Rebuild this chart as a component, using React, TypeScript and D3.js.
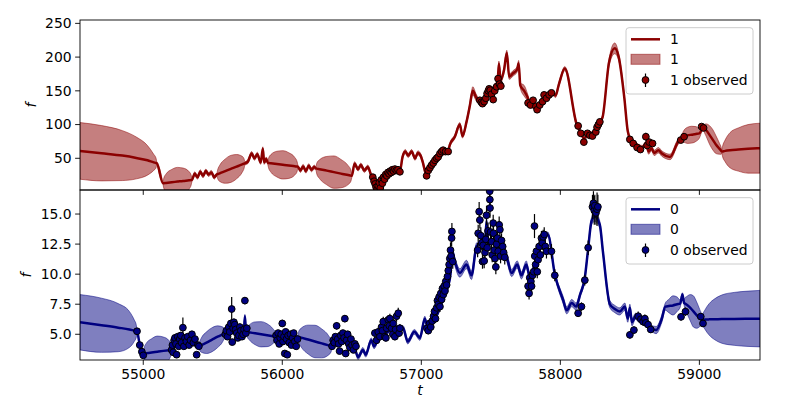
import React from 'react';
import * as d3 from 'd3';

// GP model knots: [t, mean, 1-sigma half width]
const MODEL_1: number[][] = [
  [54545, 61, 42], [54700, 57.5, 41], [54850, 54, 37], [54950, 50.5, 31], [55030, 47, 22], [55075, 44, 12], [55092, 43, 7], [55098, 42.6, 1],
  [55142, 13, 1], [55147, 13.1, 7], [55163, 13.5, 13], [55205, 14.5, 19], [55246, 15.5, 21], [55287, 16.5, 19], [55329, 17.3, 13], [55345, 17.7, 7], [55350, 17.8, 2.5],
  [55370, 27, 3], [55390, 22, 3], [55410, 30, 3], [55430, 24, 3], [55450, 31, 3], [55470, 26, 3], [55490, 29, 3], [55510, 22, 3], [55530, 26, 2.5],
  [55535, 26.4, 6.5], [55550, 27.7, 12], [55590, 31, 18], [55630, 34.3, 20], [55671, 37.6, 18], [55711, 41, 12], [55726, 42.2, 6.5], [55731, 42.6, 2.5],
  [55752, 45, 3], [55780, 57, 3], [55800, 50, 3], [55820, 56, 3], [55845, 44, 3], [55860, 64, 3], [55870, 44, 3], [55885, 49, 3], [55896, 43, 2.5],
  [55901, 42.9, 7], [55918, 42.5, 13], [55961, 41.4, 19], [56004, 40.3, 21], [56047, 39.2, 19], [56090, 38.2, 13], [56107, 37.7, 7], [56112, 37.6, 2.5],
  [56130, 32, 3], [56150, 38, 3], [56170, 31, 3], [56190, 39, 3], [56210, 33, 3], [56230, 37, 3], [56242, 35, 2.5],
  [56248, 34.7, 8], [56268, 33.9, 14], [56320, 31.7, 21], [56371, 29.5, 24], [56422, 27.3, 21], [56474, 25.1, 14], [56494, 24.3, 8], [56500, 24, 2.5],
  [56520, 42, 3], [56545, 34, 3], [56565, 40, 3], [56590, 32, 3], [56615, 37, 3], [56640, 24, 3],
  [56660, 14, 3], [56685, 8, 3], [56715, 15, 3], [56745, 24, 3], [56775, 29, 3], [56810, 32, 3], [56846, 31, 3],
  [56865, 52, 3], [56885, 60, 3], [56905, 54, 3], [56930, 60, 3], [56955, 50, 3], [56975, 58, 3], [56995, 54, 3], [57011, 44, 3], [57035, 26, 3],
  [57060, 35, 3], [57100, 45, 3], [57140, 56, 3], [57191, 60, 3],
  [57205, 70, 3], [57241, 82, 3], [57277, 100, 3], [57296, 83, 3], [57325, 104, 3], [57349, 128, 4], [57370, 150, 6], [57395, 140, 5], [57421, 134, 3],
  [57450, 134, 3], [57480, 146, 3], [57505, 150, 3], [57530, 158, 3], [57548, 162, 4], [57558, 190, 4], [57570, 166, 4],
  [57595, 181, 4], [57615, 206, 4], [57632, 171, 4], [57660, 176, 4], [57690, 182, 4], [57700, 191, 4], [57712, 158, 4], [57740, 150, 8], [57765, 140, 5], [57780, 132, 3],
  [57800, 130, 3], [57830, 127, 3], [57870, 136, 3], [57910, 144, 3], [57946, 146, 3], [57965, 143, 3], [57990, 160, 3], [58032, 183, 3], [58118, 100, 3],
  [58140, 91, 3], [58170, 80, 3], [58200, 85, 3], [58240, 88, 3], [58285, 103, 3],
  [58305, 112, 3], [58350, 192, 5], [58391, 213, 8], [58420, 200, 5], [58460, 140, 3], [58485, 90, 3],
  [58500, 80, 3], [58530, 74, 3], [58560, 68, 3], [58590, 66, 3], [58615, 72, 3], [58635, 60, 4], [58655, 65, 4],
  [58675, 58, 4], [58705, 62, 4], [58730, 57, 4], [58789, 52, 4], [58849, 75, 4], [58868, 78, 3],
  [58873, 79, 4.5], [58885, 82, 8], [58915, 84, 12], [58945, 85, 12.5], [58975, 86, 11], [59000, 87, 7], [59011, 90, 4], [59016, 93, 3], [59030, 96, 2],
  [59034, 95, 5], [59048, 92, 9], [59075, 84, 14], [59098, 77, 15], [59120, 70, 13], [59145, 64, 8], [59157, 61, 5], [59161, 60, 2],
  [59166, 60.2, 7], [59185, 61, 16], [59220, 62, 26], [59280, 63, 32], [59350, 64, 36], [59436, 65, 37],
];

// observed points: [t, f, err]
const OBS_1: number[][] = [
  [56651, 22, 3], [56660, 16, 3], [56668, 12, 3], [56675, 7, 3], [56682, 4, 3], [56690, 9, 3], [56698, 14, 3], [56705, 6, 3],
  [56712, 18, 3], [56720, 13, 3], [56728, 22, 3], [56736, 19, 3], [56744, 26, 3], [56752, 24, 3], [56760, 29, 3], [56768, 27, 3],
  [56776, 31, 3], [56784, 29, 3], [56792, 33, 3], [56800, 31, 3], [56810, 34, 3], [56820, 32, 3], [56832, 33, 3], [56846, 30, 3],
  [57038, 24, 3], [57050, 32, 3], [57062, 36, 3], [57074, 40, 3], [57086, 43, 3], [57098, 47, 3], [57110, 50, 3], [57121, 52, 3],
  [57134, 57, 3], [57146, 60, 3], [57157, 62, 3], [57175, 60, 3], [57193, 60, 3],
  [57421, 136, 3], [57432, 133, 3], [57440, 131, 3], [57452, 134, 3], [57464, 139, 3], [57473, 146, 3], [57482, 150, 3], [57488, 153, 3],
  [57496, 151, 3], [57505, 145, 3], [57517, 137, 3], [57528, 150, 3], [57541, 156, 3], [57552, 168, 4], [57562, 160, 3], [57572, 157, 3],
  [57768, 132, 3], [57785, 129, 3], [57804, 136, 3], [57824, 127, 3], [57833, 122, 3], [57852, 129, 3], [57872, 134, 3], [57883, 144, 3],
  [57900, 139, 3], [57919, 144, 3], [57936, 147, 3],
  [58128, 98, 3], [58147, 87, 3], [58169, 74, 3], [58195, 87, 3], [58212, 84, 3], [58231, 83, 3], [58255, 89, 3], [58264, 96, 3], [58274, 100, 3], [58284, 104, 3],
  [58500, 78, 3], [58524, 72, 3], [58552, 66, 3], [58576, 63, 3], [58615, 82, 6], [58624, 69, 3], [58639, 74, 3], [58663, 72, 3],
  [58866, 77, 3], [58890, 82, 3], [59016, 97, 3], [59030, 95, 3],
];

const MODEL_0: number[][] = [
  [54545, 6.0, 2.3], [54700, 5.75, 2.25], [54820, 5.55, 2.0], [54900, 5.4, 1.5], [54935, 5.3, 0.9], [54950, 5.26, 0.5], [54955, 5.25, 0.1],
  [54975, 4.1, 0.1], [54990, 3.55, 0.1], [55000, 3.4, 0.1],
  [55005, 3.4, 0.42], [55020, 3.42, 0.8], [55060, 3.48, 1.15], [55102, 3.55, 1.3], [55145, 3.62, 1.15], [55185, 3.68, 0.8], [55199, 3.7, 0.42], [55204, 3.7, 0.12],
  [55240, 4.3, 0.15], [55280, 4.5, 0.15], [55320, 4.4, 0.15], [55360, 4.3, 0.15], [55400, 4.0, 0.12],
  [55405, 4.02, 0.33], [55418, 4.1, 0.6], [55455, 4.3, 0.9], [55495, 4.55, 1.0], [55535, 4.8, 0.9], [55572, 5.0, 0.6], [55585, 5.07, 0.33], [55590, 5.1, 0.12],
  [55620, 5.3, 0.15], [55660, 5.15, 0.15], [55700, 5.25, 0.15], [55722, 5.0, 0.15], [55731, 6.5, 0.15], [55740, 5.2, 0.12],
  [55745, 5.19, 0.35], [55761, 5.16, 0.6], [55805, 5.08, 0.95], [55848, 5.0, 1.05], [55891, 4.92, 0.95], [55934, 4.84, 0.6], [55950, 4.81, 0.35], [55955, 4.8, 0.12],
  [55990, 4.7, 0.15], [56030, 4.75, 0.15], [56070, 4.7, 0.15], [56112, 4.8, 0.12],
  [56118, 4.78, 0.45], [56137, 4.72, 0.8], [56186, 4.56, 1.2], [56235, 4.4, 1.35], [56284, 4.24, 1.2], [56333, 4.08, 0.8], [56352, 4.02, 0.45], [56358, 4.0, 0.12],
  [56400, 4.3, 0.15], [56450, 4.5, 0.15], [56500, 4.2, 0.15], [56520, 3.9, 0.15],
  [56545, 3.1, 0.2], [56580, 3.7, 0.2], [56600, 3.3, 0.2], [56640, 4.5, 0.2], [56660, 4.0, 0.2],
  [56690, 4.6, 0.15], [56720, 5.0, 0.15], [56760, 5.2, 0.15], [56800, 5.6, 0.15], [56846, 5.6, 0.15],
  [56870, 5.5, 0.2], [56902, 4.4, 0.2], [56950, 5.2, 0.2], [56990, 4.7, 0.2], [57025, 6.3, 0.2], [57045, 5.6, 0.15],
  [57080, 5.9, 0.15], [57120, 6.8, 0.15], [57160, 8.0, 0.15], [57190, 8.9, 0.15], [57210, 10.0, 0.15], [57222, 11.9, 0.3],
  [57241, 11.05, 0.35], [57277, 10.1, 0.35], [57325, 10.8, 0.35], [57361, 9.9, 0.35], [57397, 12.3, 0.3],
  [57420, 12.5, 0.2], [57455, 12.0, 0.2], [57469, 14.4, 0.2], [57480, 12.5, 0.2], [57520, 12.8, 0.2], [57560, 12.0, 0.2], [57600, 11.6, 0.2],
  [57610, 11.5, 0.3], [57650, 10.1, 0.3], [57690, 10.8, 0.3], [57720, 9.9, 0.3], [57755, 10.8, 0.3],
  [57780, 9.8, 0.2], [57820, 11.0, 0.2], [57860, 12.3, 0.2], [57910, 13.3, 0.2], [57960, 10.0, 0.2],
  [58020, 7.85, 0.3], [58046, 7.0, 0.3], [58082, 7.6, 0.3], [58113, 7.3, 0.3], [58142, 8.3, 0.2], [58176, 9.7, 0.2],
  [58198, 11.9, 0.2], [58224, 14.4, 0.3], [58248, 14.8, 0.4], [58284, 14.1, 0.3], [58306, 11.9, 0.2],
  [58356, 7.5, 0.3], [58392, 7.1, 0.3], [58428, 6.9, 0.3], [58464, 7.3, 0.3], [58485, 6.3, 0.3], [58500, 7.2, 0.3], [58515, 6.0, 0.3],
  [58540, 6.5, 0.25], [58560, 6.3, 0.25], [58590, 6.2, 0.25], [58625, 5.8, 0.25], [58655, 5.5, 0.25], [58689, 5.35, 0.3],
  [58730, 6.3, 0.3], [58755, 7.3, 0.3], [58780, 7.35, 0.55], [58810, 7.4, 0.8], [58840, 7.5, 0.6], [58862, 7.55, 0.3],
  [58878, 8.3, 0.15], [58890, 7.6, 0.15],
  [58894, 7.58, 0.42], [58910, 7.45, 0.7], [58935, 7.2, 1.1], [58957, 6.9, 1.3], [58980, 6.6, 1.1], [59003, 6.35, 0.7], [59015, 6.24, 0.42], [59019, 6.2, 0.1],
  [59025, 6.2, 0.45], [59040, 6.22, 0.8], [59070, 6.24, 1.3], [59110, 6.25, 1.7], [59160, 6.26, 2.0], [59250, 6.28, 2.2], [59350, 6.29, 2.3], [59436, 6.3, 2.35],
];

const OBS_0: number[][] = [
  [54955, 5.25, 0.15], [54975, 4.1, 0.15], [54990, 3.55, 0.15], [55000, 3.25, 0.15],
  [55204, 3.7, 0.2], [55210, 4.1, 0.2], [55215, 3.5, 0.2], [55222, 4.5, 0.2], [55228, 4.7, 0.25], [55235, 4.2, 0.2], [55240, 3.3, 0.2],
  [55248, 4.8, 0.25], [55255, 4.0, 0.2], [55262, 4.6, 0.25], [55270, 4.9, 0.25], [55276, 4.3, 0.2], [55285, 5.55, 0.85], [55292, 4.0, 0.2],
  [55300, 4.7, 0.25], [55310, 4.4, 0.2], [55320, 4.8, 0.25], [55330, 4.1, 0.2], [55340, 4.5, 0.25], [55350, 5.0, 0.25], [55360, 4.3, 0.2],
  [55372, 4.6, 0.2], [55384, 3.3, 0.2], [55393, 4.1, 0.2], [55400, 4.0, 0.2],
  [55590, 5.0, 0.2], [55598, 5.3, 0.25], [55606, 4.8, 0.2], [55615, 5.6, 0.3], [55622, 5.2, 0.25], [55630, 5.9, 0.3], [55636, 7.1, 1.0],
  [55640, 4.35, 0.25], [55646, 5.5, 0.3], [55652, 6.0, 0.3], [55658, 5.8, 0.3], [55665, 5.4, 0.25], [55672, 5.1, 0.25], [55680, 4.7, 0.2],
  [55688, 4.9, 0.25], [55695, 5.6, 0.3], [55702, 5.3, 0.25], [55710, 4.8, 0.2], [55718, 5.0, 0.25], [55725, 5.4, 0.25], [55731, 7.8, 0.3],
  [55738, 5.1, 0.25], [55745, 5.5, 0.3],
  [55955, 4.9, 0.2], [55962, 4.5, 0.2], [55970, 5.1, 0.25], [55978, 4.2, 0.2], [55985, 4.7, 0.25], [55992, 5.0, 0.25], [56000, 5.9, 0.3],
  [56005, 4.4, 0.2], [56012, 4.8, 0.25], [56018, 3.4, 0.2], [56024, 5.2, 0.25], [56030, 4.6, 0.2], [56036, 3.3, 0.2], [56042, 4.9, 0.25],
  [56050, 4.3, 0.2], [56058, 5.0, 0.25], [56066, 4.1, 0.2], [56074, 4.7, 0.25], [56082, 5.1, 0.25], [56090, 4.4, 0.2], [56100, 4.0, 0.2],
  [56110, 4.6, 0.25],
  [56358, 4.0, 0.2], [56366, 4.5, 0.2], [56374, 4.3, 0.2], [56382, 4.8, 0.25], [56391, 5.7, 0.3], [56398, 4.6, 0.25], [56405, 4.2, 0.2],
  [56412, 3.6, 0.2], [56420, 4.9, 0.25], [56428, 4.4, 0.2], [56436, 5.1, 0.25], [56444, 4.7, 0.25], [56450, 6.3, 0.3], [56456, 3.4, 0.2],
  [56462, 4.5, 0.2], [56470, 5.0, 0.25], [56478, 4.2, 0.2], [56486, 3.9, 0.2], [56494, 4.6, 0.25], [56502, 4.1, 0.2], [56512, 3.7, 0.2],
  [56522, 4.2, 0.2], [56530, 4.0, 0.2],
  [56666, 5.1, 0.3], [56678, 4.5, 0.3], [56690, 5.2, 0.35], [56702, 4.8, 0.3], [56714, 5.6, 0.4], [56720, 5.3, 0.3], [56726, 6.05, 0.4],
  [56738, 4.8, 0.3], [56745, 4.7, 0.3], [56750, 5.5, 0.35], [56762, 6.2, 0.4], [56770, 5.7, 0.35], [56774, 6.3, 0.4], [56786, 5.5, 0.35],
  [56795, 5.0, 0.3], [56798, 5.9, 0.4], [56810, 4.8, 0.3], [56815, 5.4, 0.35], [56822, 6.5, 0.45], [56834, 6.75, 0.45], [56840, 5.1, 0.3],
  [56846, 5.5, 0.35],
  [57040, 5.5, 0.3], [57050, 5.3, 0.3], [57060, 5.9, 0.35], [57068, 5.6, 0.3], [57078, 6.1, 0.35], [57088, 6.5, 0.4], [57095, 6.9, 0.4],
  [57102, 6.3, 0.35], [57110, 7.2, 0.45], [57116, 7.8, 0.5], [57122, 7.5, 0.45], [57128, 8.1, 0.5], [57134, 7.3, 0.45], [57140, 8.4, 0.5],
  [57146, 7.9, 0.5], [57152, 8.8, 0.5], [57158, 8.3, 0.5], [57164, 9.0, 0.55], [57170, 8.6, 0.5], [57176, 9.4, 0.55], [57182, 9.1, 0.55],
  [57188, 9.8, 0.6], [57194, 10.3, 0.6], [57200, 10.8, 0.6], [57205, 11.3, 0.6], [57210, 12.0, 0.65], [57214, 11.5, 0.6], [57218, 13.0, 0.7],
  [57220, 13.55, 0.7], [57226, 11.05, 0.6],
  [57405, 12.0, 0.6], [57409, 13.4, 0.7], [57416, 15.2, 0.8], [57421, 14.5, 0.7], [57428, 13.2, 0.7], [57435, 12.6, 0.6], [57440, 11.05, 0.6],
  [57445, 12.4, 0.6], [57452, 11.1, 0.6], [57458, 11.8, 0.6], [57464, 12.9, 0.7], [57469, 14.9, 0.8], [57474, 12.2, 0.6], [57480, 13.6, 0.7],
  [57492, 16.9, 0.9], [57493, 16.2, 0.8], [57494, 15.5, 0.8], [57498, 13.5, 0.7], [57505, 12.7, 0.7], [57510, 11.6, 0.6], [57517, 14.25, 0.7],
  [57519, 13.4, 0.7], [57524, 12.0, 0.6], [57530, 11.3, 0.6], [57536, 10.6, 0.6], [57541, 12.5, 0.6], [57548, 13.0, 0.7], [57553, 11.9, 0.6],
  [57560, 14.1, 0.7], [57565, 13.7, 0.7], [57570, 11.5, 0.6], [57577, 12.8, 0.6], [57585, 12.3, 0.6], [57592, 11.8, 0.6], [57600, 11.4, 0.6],
  [57768, 9.0, 0.5], [57775, 8.4, 0.5], [57780, 9.7, 0.5], [57788, 9.4, 0.5], [57793, 9.0, 0.5], [57800, 9.9, 0.5], [57808, 10.2, 0.55],
  [57814, 14.0, 1.0], [57816, 11.5, 0.55], [57822, 10.8, 0.55], [57828, 11.9, 0.6], [57834, 10.2, 0.55], [57840, 11.2, 0.55], [57848, 12.3, 0.6],
  [57856, 11.6, 0.55], [57864, 13.0, 0.6], [57870, 12.6, 0.6], [57876, 13.1, 0.6], [57884, 13.3, 0.6], [57892, 12.3, 0.6], [57900, 11.9, 0.6],
  [57936, 11.9, 0.6], [57960, 9.9, 0.5],
  [58128, 6.75, 0.3], [58152, 7.3, 0.35], [58176, 9.5, 0.45], [58200, 12.2, 0.6], [58231, 15.6, 1.0], [58238, 15.9, 1.0], [58244, 15.3, 1.2],
  [58248, 15.7, 0.9], [58256, 15.1, 1.0], [58264, 15.4, 1.4], [58270, 15.6, 1.0],
  [58500, 4.95, 0.3], [58529, 5.35, 0.3], [58560, 6.5, 0.4], [58579, 6.25, 0.35], [58595, 6.05, 0.35], [58608, 6.3, 0.35], [58615, 5.95, 0.35],
  [58631, 5.8, 0.3], [58650, 5.4, 0.3],
  [58868, 6.45, 0.3], [58900, 6.88, 0.35], [59010, 6.47, 0.3], [59026, 5.9, 0.3],
];

const X_DOMAIN = [54545, 59436];
const X_TICKS = [55000, 56000, 57000, 58000, 59000];
const Y_DOMAIN_1 = [3, 255];
const Y_TICKS_1 = [50, 100, 150, 200, 250];
const Y_DOMAIN_0 = [2.86, 17.0];
const Y_TICKS_0 = [5, 7.5, 10, 12.5, 15];

const FONT = '"DejaVu Sans", sans-serif';
const FS = 13.9;
const TICK = 4.86;
const LEFT = 80;
const RIGHT = 760;

const x = d3.scaleLinear().domain(X_DOMAIN).range([LEFT, RIGHT]);

interface PanelProps {
  id: string;
  model: number[][];
  obs: number[][];
  domain: number[];
  yTicks: number[];
  fmt: (v: number) => string;
  top: number;
  bottom: number;
  color: string;
  label: string;
  fLabelX: number;
  xLabels: boolean;
}

const Panel: React.FC<PanelProps> = ({ id, model, obs, domain, yTicks, fmt, top, bottom, color, label, fLabelX, xLabels }) => {
  const y = d3.scaleLinear().domain(domain).range([bottom, top]);
  const area = d3
    .area<number[]>()
    .x((d) => x(d[0]))
    .y0((d) => y(d[1] - d[2]))
    .y1((d) => y(d[1] + d[2]))
    .curve(d3.curveMonotoneX);
  const line = d3
    .line<number[]>()
    .x((d) => x(d[0]))
    .y((d) => y(d[1]))
    .curve(d3.curveMonotoneX);

  const lgY = top;
  return (
    <g>
      <clipPath id={`clip-${id}`}>
        <rect x={LEFT} y={top} width={RIGHT - LEFT} height={bottom - top} />
      </clipPath>
      <g clipPath={`url(#clip-${id})`}>
        <path d={area(model) ?? ''} fill={color} fillOpacity={0.5} stroke={color} strokeOpacity={0.5} strokeWidth={1} />
        <path d={line(model) ?? ''} fill="none" stroke={color} strokeWidth={2.5} strokeLinejoin="round" />
        {obs.map((d, i) => (
          <line key={`e${i}`} x1={x(d[0])} x2={x(d[0])} y1={y(d[1] - d[2])} y2={y(d[1] + d[2])} stroke="#000" strokeWidth={1.2} />
        ))}
        {obs.map((d, i) => (
          <circle key={`c${i}`} cx={x(d[0])} cy={y(d[1])} r={3.4} fill={color} stroke="#000" strokeWidth={1} />
        ))}
      </g>
      <rect x={LEFT} y={top} width={RIGHT - LEFT} height={bottom - top} fill="none" stroke="#000" strokeWidth={0.9} />
      {yTicks.map((v) => (
        <g key={v}>
          <line x1={LEFT - TICK} x2={LEFT} y1={y(v)} y2={y(v)} stroke="#000" strokeWidth={0.9} />
          <text x={LEFT - TICK - 3.5} y={y(v)} dy="0.35em" textAnchor="end" fontFamily={FONT} fontSize={FS} fill="#000">
            {fmt(v)}
          </text>
        </g>
      ))}
      {X_TICKS.map((v) => (
        <g key={v}>
          <line x1={x(v)} x2={x(v)} y1={bottom} y2={bottom + TICK} stroke="#000" strokeWidth={0.9} />
          {xLabels && (
            <text x={x(v)} y={bottom + 19} textAnchor="middle" fontFamily={FONT} fontSize={FS} fill="#000">
              {v}
            </text>
          )}
        </g>
      ))}
      <text
        transform={`translate(${fLabelX},${(top + bottom) / 2}) rotate(-90)`}
        textAnchor="middle"
        fontFamily={FONT}
        fontSize={FS}
        fontStyle="italic"
        dy="0.35em"
      >
        f
      </text>
      <g>
        <rect x={626} y={lgY + 7.7} width={127} height={66.3} rx={3} fill="#fff" fillOpacity={0.8} stroke="#cccccc" strokeWidth={1} />
        <line x1={631} x2={660} y1={lgY + 19.3} y2={lgY + 19.3} stroke={color} strokeWidth={2.5} />
        <text x={670} y={lgY + 19.3} dy="0.35em" fontFamily={FONT} fontSize={FS}>{label}</text>
        <rect x={631} y={lgY + 34.3} width={29} height={10} fill={color} fillOpacity={0.5} stroke={color} strokeOpacity={0.5} />
        <text x={670} y={lgY + 39.3} dy="0.35em" fontFamily={FONT} fontSize={FS}>{label}</text>
        <line x1={645.5} x2={645.5} y1={lgY + 53.5} y2={lgY + 67} stroke="#000" strokeWidth={1.2} />
        <circle cx={645.5} cy={lgY + 60} r={3.4} fill={color} stroke="#000" strokeWidth={1} />
        <text x={670} y={lgY + 60} dy="0.35em" fontFamily={FONT} fontSize={FS}>{`${label} observed`}</text>
      </g>
    </g>
  );
};

const App: React.FC = () => {
  return (
    <svg width={800} height={400} style={{ position: 'absolute', left: 0, top: 0, background: '#fff' }}>
      <rect width={800} height={400} fill="#fff" />
      <Panel
        id="top"
        model={MODEL_1}
        obs={OBS_1}
        domain={Y_DOMAIN_1}
        yTicks={Y_TICKS_1}
        fmt={(v) => d3.format('d')(v)}
        top={20}
        bottom={190}
        color="#8b0000"
        label="1"
        fLabelX={31}
        xLabels={false}
      />
      <Panel
        id="bot"
        model={MODEL_0}
        obs={OBS_0}
        domain={Y_DOMAIN_0}
        yTicks={Y_TICKS_0}
        fmt={(v) => d3.format('.1f')(v)}
        top={190}
        bottom={360}
        color="#000080"
        label="0"
        fLabelX={26}
        xLabels={true}
      />
      <text x={420} y={395} textAnchor="middle" fontFamily={FONT} fontSize={FS} fontStyle="italic">
        t
      </text>
    </svg>
  );
};

export default App;
